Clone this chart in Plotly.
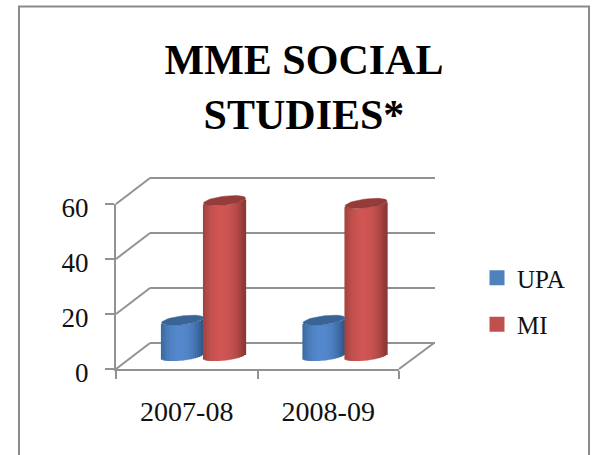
import math
import plotly.graph_objects as go

W, H = 592, 455
title_text = "MME SOCIAL<br>STUDIES*"
years = ["2007-08", "2008-09"]
series_names = ["UPA", "MI"]
upa_values = [13, 13]
mi_values = [56.5, 55.5]
y_ticks = [0, 20, 40, 60]
y_range_max = 60
GRID = "#929292"
FONT = "Liberation Serif"
PAD = 6  # data units of slack on hidden axes so edge gridlines and curved bases stay in range
PAD_PX = PAD * 165 / y_range_max


def dx(a, b):
    return [a / W, b / W]


def dy(top, bottom):
    return [1 - bottom / H, 1 - top / H]


def px_x(p):
    return p / W


def px_y(p):
    return 1 - p / H


def shade(edge, mid, t):
    f = max(0.0, 1 - (abs(t + 0.1) / 1.1) ** 2.2)
    return "rgb(%d,%d,%d)" % tuple(round(e + (m - e) * f) for e, m in zip(edge, mid))


def cylinder(values, group_offset, edge, mid, top_color, name):
    """Body strips (bars) and top caps drawn on the mid-depth plane axes."""
    width, e, tilt, n = 0.297, 1.6, 0.9, 21
    xs, ys, bases, colors = [], [], [], []
    traces = []
    for i, v in enumerate(values):
        c = i + group_offset
        for k in range(n):
            t = -1 + (2 * k + 1) / n
            drop = -e * math.sqrt(max(0, 1 - t * t)) + tilt * t
            xs.append(c + t * width / 2)
            ys.append(v)
            bases.append(drop)
            colors.append(shade(edge, mid, t))
    traces.append(go.Bar(x=xs, y=ys, base=bases, width=width / n * 1.6,
                         marker=dict(color=colors, line=dict(width=0)),
                         xaxis="x3", yaxis="y3", showlegend=False, cliponaxis=False,
                         hoverinfo="skip", name=name))
    for i, v in enumerate(values):
        c = i + group_offset
        cx, cy = [], []
        for a in range(0, 361, 8):
            th = math.radians(a)
            cx.append(c + width / 2 * math.cos(th))
            cy.append(v + e * math.sin(th) + tilt * math.cos(th))
        traces.append(go.Scatter(x=cx, y=cy, mode="lines", fill="toself", fillcolor=top_color,
                                 line=dict(color=top_color, width=0.5),
                                 xaxis="x3", yaxis="y3", showlegend=False, cliponaxis=False,
                                 hoverinfo="skip"))
    return traces


fig = go.Figure()
fig.add_trace(go.Scatter(x=[None], y=[None], xaxis="x", yaxis="y", showlegend=False, hoverinfo="skip"))
fig.add_trace(go.Scatter(x=years, y=[None, None], xaxis="x2", yaxis="y2", showlegend=False, hoverinfo="skip"))
for tr in cylinder(upa_values, -0.15, (44, 84, 132), (84, 136, 204), "#386595", "UPA"):
    fig.add_trace(tr)
for tr in cylinder(mi_values, 0.147, (134, 54, 52), (206, 86, 83), "#953c3a", "MI"):
    fig.add_trace(tr)
for name, col in zip(series_names, ["#4f81bd", "#c0504d"]):
    fig.add_trace(go.Scatter(x=[None], y=[None], mode="markers", name=name, legendgroup=name,
                             xaxis="x3", yaxis="y3",
                             marker=dict(symbol="square", size=15, color=col)))

shapes = [dict(type="rect", xref="paper", yref="paper", x0=px_x(19), x1=px_x(589),
               y0=px_y(470), y1=px_y(6.5), line=dict(color="#8a8a8a", width=2))]
for v in y_ticks:
    py = 369 - v * 165 / y_range_max
    shapes.append(dict(type="line", xref="paper", yref="paper", x0=px_x(116), x1=px_x(150),
                       y0=px_y(py), y1=px_y(py - 26), line=dict(color=GRID, width=2)))
shapes.append(dict(type="line", xref="paper", yref="paper", x0=px_x(399), x1=px_x(434),
                   y0=px_y(369), y1=px_y(343), line=dict(color=GRID, width=2)))

fig.update_layout(
    width=W, height=H, autosize=False,
    margin=dict(l=0, r=0, t=0, b=0),
    paper_bgcolor="white", plot_bgcolor="rgba(0,0,0,0)",
    font=dict(family=FONT, color="#111111", size=24),
    barmode="overlay",
    title=dict(text=title_text, font=dict(family=FONT, size=42, color="black", weight="bold"),
               x=304 / W, xanchor="center", y=1 - 74 / H, yanchor="top", automargin=False),
    shapes=shapes,
    legend=dict(x=477 / W, xanchor="left", y=1 - 255 / H, yanchor="top",
                font=dict(family=FONT, size=25), tracegroupgap=11,
                bgcolor="rgba(0,0,0,0)", itemwidth=30),
    xaxis=dict(domain=dx(150, 435), range=[0, 1], visible=False, anchor="y", automargin=False),
    yaxis=dict(domain=dy(178 - PAD_PX, 343 + PAD_PX), range=[-PAD, y_range_max + PAD], tickvals=y_ticks,
               showgrid=True, gridcolor=GRID, gridwidth=2, zeroline=False, showline=False,
               showticklabels=False, ticks="", anchor="x", automargin=False),
    xaxis2=dict(domain=dx(116, 399), type="category", categoryorder="array", categoryarray=years,
                range=[-0.5, 1.5], tickson="boundaries", ticks="outside", ticklen=8,
                tickwidth=2, tickcolor=GRID, showline=True, linecolor=GRID, linewidth=2,
                showgrid=False, zeroline=False, tickfont=dict(family=FONT, size=28),
                ticklabelstandoff=16, anchor="y2", automargin=False),
    yaxis2=dict(domain=dy(204, 369), range=[0, y_range_max], tickvals=y_ticks, ticks="outside",
                ticklen=9, tickwidth=2, tickcolor=GRID, showline=True, linecolor=GRID,
                linewidth=2, showgrid=False, zeroline=False, tickfont=dict(family=FONT, size=27),
                ticklabelstandoff=11, ticklabelshift=4, anchor="x2", automargin=False),
    xaxis3=dict(domain=dx(133, 416), range=[-0.5, 1.5], visible=False, anchor="y3", automargin=False),
    yaxis3=dict(domain=dy(191 - PAD_PX, 356 + PAD_PX), range=[-PAD, y_range_max + PAD], visible=False,
                anchor="x3", automargin=False),
)
fig.write_html("out.html", post_script="document.body.style.margin='0';",
               config={"displayModeBar": False})
